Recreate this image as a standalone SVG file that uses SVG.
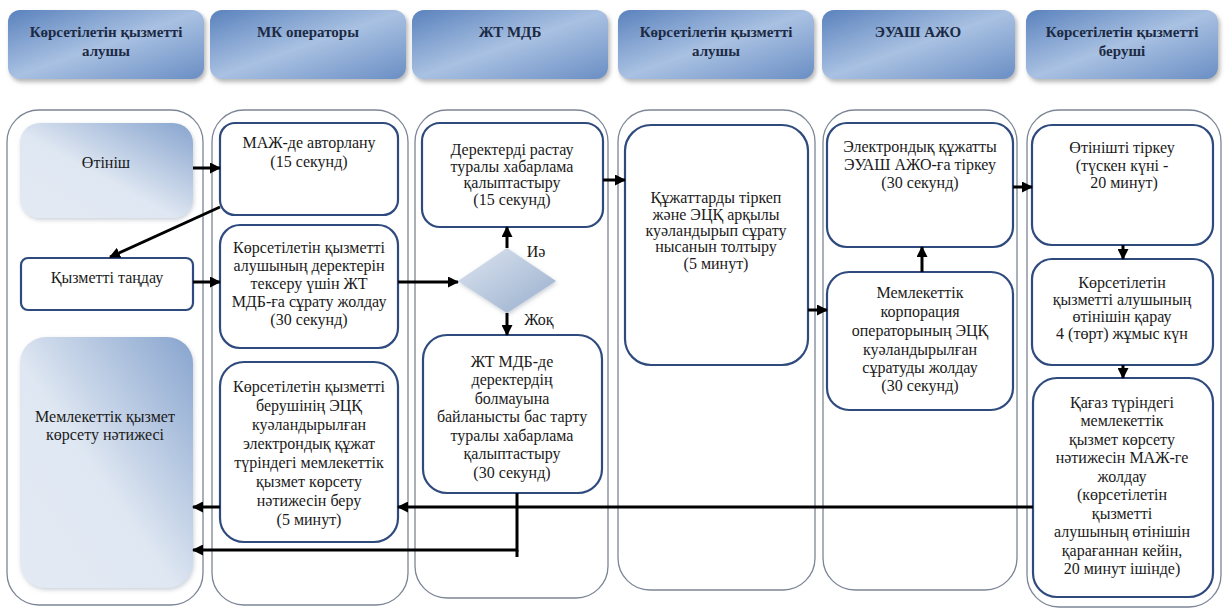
<svg xmlns="http://www.w3.org/2000/svg" width="1225" height="608" viewBox="0 0 1225 608">
<defs>
<linearGradient id="hdrGrad" x1="0" y1="0" x2="1" y2="1">
<stop offset="0" stop-color="#5a82bd"/>
<stop offset="0.5" stop-color="#a9c1e2"/>
<stop offset="1" stop-color="#6a8ec4"/>
</linearGradient>
<linearGradient id="softGrad" x1="0" y1="1" x2="1" y2="0">
<stop offset="0" stop-color="#e3eaf4"/>
<stop offset="0.45" stop-color="#dfe7f2"/>
<stop offset="1" stop-color="#87a4ce"/>
</linearGradient>
<linearGradient id="diaGrad" x1="0" y1="0" x2="1" y2="1">
<stop offset="0" stop-color="#dde5f0"/>
<stop offset="1" stop-color="#98aecd"/>
</linearGradient>
<filter id="shadow" x="-10%" y="-10%" width="125%" height="130%">
<feDropShadow dx="2" dy="3" stdDeviation="2" flood-color="#7a7a7a" flood-opacity="0.55"/>
</filter>
<filter id="softShadow" x="-10%" y="-10%" width="125%" height="125%">
<feDropShadow dx="1" dy="2" stdDeviation="2" flood-color="#9aa3b0" flood-opacity="0.5"/>
</filter>
<marker id="arrow" markerUnits="userSpaceOnUse" markerWidth="11" markerHeight="11" refX="10" refY="5.5" orient="auto">
<path d="M0,0 L11,5.5 L0,11 z" fill="#000"/>
</marker>
<style>
.hdr{fill:url(#hdrGrad);filter:url(#shadow);}
.ht{font-family:'Times New Roman','Liberation Serif',Tinos,'DejaVu Serif',serif;font-weight:bold;font-size:15px;fill:#1c2a44;text-anchor:middle;}
.lane{fill:#fff;stroke:#7d8696;stroke-width:1.3;}
.box{fill:#fff;stroke:#2f4b7e;stroke-width:2.2;}
.soft{fill:url(#softGrad);filter:url(#softShadow);}
.t{font-family:'Times New Roman','Liberation Serif',Tinos,'DejaVu Serif',serif;font-size:16px;fill:#1a1a1a;text-anchor:middle;}
.c{fill:none;stroke:#000;stroke-width:3;}
.ca{fill:none;stroke:#000;stroke-width:3;marker-end:url(#arrow);}
</style>
</defs>
<rect width="1225" height="608" fill="#fff"/>

<g id="headers" font-family="Liberation Serif, serif">
<g id="h1"><rect class="hdr" x="8" y="10" width="196" height="69" rx="12"/><text class="ht" x="106" y="37">Көрсетілетін қызметті</text><text class="ht" x="106" y="56">алушы</text></g>
<g id="h2"><rect class="hdr" x="210" y="10" width="196" height="69" rx="12"/><text class="ht" x="308" y="37">МК операторы</text></g>
<g id="h3"><rect class="hdr" x="412" y="10" width="196" height="69" rx="12"/><text class="ht" x="510" y="37">ЖТ МДБ</text></g>
<g id="h4"><rect class="hdr" x="618" y="10" width="196" height="69" rx="12"/><text class="ht" x="716" y="37">Көрсетілетін қызметті</text><text class="ht" x="716" y="56">алушы</text></g>
<g id="h5"><rect class="hdr" x="822" y="10" width="193" height="69" rx="12"/><text class="ht" x="918" y="37">ЭУАШ АЖО</text></g>
<g id="h6"><rect class="hdr" x="1026" y="10" width="192" height="69" rx="12"/><text class="ht" x="1122" y="37">Көрсетілетін қызметті</text><text class="ht" x="1122" y="56">беруші</text></g>
</g>

<g id="lanes">
<rect class="lane" x="7" y="110" width="196" height="495" rx="32"/>
<rect class="lane" x="212" y="110" width="196" height="495" rx="32"/>
<rect class="lane" x="415" y="110" width="193" height="488" rx="32"/>
<rect class="lane" x="618" y="110" width="197" height="480" rx="32"/>
<rect class="lane" x="823" y="110" width="194" height="480" rx="32"/>
<rect class="lane" x="1027" y="110" width="194" height="497" rx="32"/>
</g>

<g id="n_otinish"><rect class="soft" x="20" y="123" width="173" height="95" rx="20"/><text class="t" x="106" y="168">Өтініш</text></g>
<g id="n_tandau"><rect class="box" x="21" y="258" width="172" height="52" rx="7"/><text class="t" x="107" y="283">Қызметті таңдау</text></g>
<g id="n_natije"><rect class="soft" x="20" y="337" width="173" height="251" rx="26"/><text class="t" x="105" y="422">Мемлекеттік қызмет</text><text class="t" x="105" y="440">көрсету нәтижесі</text></g>

<g id="n_avtor"><rect class="box" x="220" y="123" width="178" height="92" rx="15"/><text class="t" x="309" y="148">МАЖ-де авторлану</text><text class="t" x="309" y="167">(15 секунд)</text></g>
<g id="n_surau"><rect class="box" x="220" y="225" width="178" height="123" rx="20"/>
<text class="t" x="309" y="253">Көрсетілетін қызметті</text>
<text class="t" x="309" y="271">алушының деректерін</text>
<text class="t" x="309" y="289">тексеру үшін ЖТ</text>
<text class="t" x="309" y="307">МДБ-ға сұрату жолдау</text>
<text class="t" x="309" y="325">(30 секунд)</text></g>
<g id="n_beru"><rect class="box" x="220" y="362" width="178" height="180" rx="24"/>
<text class="t" x="309" y="392">Көрсетілетін қызметті</text>
<text class="t" x="309" y="411">берушінің ЭЦҚ</text>
<text class="t" x="309" y="430">куәландырылған</text>
<text class="t" x="309" y="449">электрондық құжат</text>
<text class="t" x="309" y="468">түріндегі мемлекеттік</text>
<text class="t" x="309" y="487">қызмет көрсету</text>
<text class="t" x="309" y="506">нәтижесін беру</text>
<text class="t" x="309" y="525">(5 минут)</text></g>

<g id="n_rastau"><rect class="box" x="422" y="123" width="181" height="104" rx="18"/>
<text class="t" x="512" y="155">Деректерді растау</text>
<text class="t" x="512" y="172">туралы хабарлама</text>
<text class="t" x="512" y="188">қалыптастыру</text>
<text class="t" x="512" y="205">(15 секунд)</text></g>
<g id="n_decision"><polygon points="458,281 507,248 556,281 507,313" fill="url(#diaGrad)" filter="url(#softShadow)"/></g>
<g id="n_bas"><rect class="box" x="423" y="335" width="179" height="158" rx="24"/>
<text class="t" x="512" y="367">ЖТ МДБ-де</text>
<text class="t" x="512" y="385">деректердің</text>
<text class="t" x="512" y="404">болмауына</text>
<text class="t" x="512" y="422">байланысты бас тарту</text>
<text class="t" x="512" y="441">туралы хабарлама</text>
<text class="t" x="512" y="459">қалыптастыру</text>
<text class="t" x="512" y="478">(30 секунд)</text></g>

<g id="n_tolt"><rect class="box" x="625" y="125" width="183" height="240" rx="26"/>
<text class="t" x="716" y="203">Құжаттарды тіркеп</text>
<text class="t" x="716" y="220">және ЭЦҚ арқылы</text>
<text class="t" x="716" y="236">куәландырып сұрату</text>
<text class="t" x="716" y="252">нысанын толтыру</text>
<text class="t" x="716" y="269">(5 минут)</text></g>

<g id="n_tirkeu"><rect class="box" x="827" y="123" width="186" height="124" rx="20"/>
<text class="t" x="920" y="152">Электрондық құжатты</text>
<text class="t" x="920" y="170">ЭУАШ АЖО-ға тіркеу</text>
<text class="t" x="920" y="188">(30 секунд)</text></g>
<g id="n_korp"><rect class="box" x="827" y="272" width="186" height="138" rx="22"/>
<text class="t" x="920" y="298">Мемлекеттік</text>
<text class="t" x="920" y="317">корпорация</text>
<text class="t" x="920" y="336">операторының ЭЦҚ</text>
<text class="t" x="920" y="355">куәландырылған</text>
<text class="t" x="920" y="373">сұратуды жолдау</text>
<text class="t" x="920" y="391">(30 секунд)</text></g>

<g id="n_otinish_tirkeu"><rect class="box" x="1032" y="125" width="181" height="120" rx="20"/>
<text class="t" x="1122" y="153">Өтінішті тіркеу</text>
<text class="t" x="1122" y="171">(түскен күні -</text>
<text class="t" x="1124" y="188">20 минут)</text></g>
<g id="n_karau"><rect class="box" x="1032" y="259" width="181" height="106" rx="20"/>
<text class="t" x="1122" y="288">Көрсетілетін</text>
<text class="t" x="1122" y="305">қызметті алушының</text>
<text class="t" x="1122" y="322">өтінішін қарау</text>
<text class="t" x="1122" y="339">4 (төрт) жұмыс күн</text></g>
<g id="n_qagaz"><rect class="box" x="1033" y="378" width="180" height="219" rx="24"/>
<text class="t" x="1122" y="408">Қағаз түріндегі</text>
<text class="t" x="1122" y="426">мемлекеттік</text>
<text class="t" x="1122" y="445">қызмет көрсету</text>
<text class="t" x="1122" y="463">нәтижесін МАЖ-ге</text>
<text class="t" x="1122" y="482">жолдау</text>
<text class="t" x="1122" y="500">(көрсетілетін</text>
<text class="t" x="1122" y="519">қызметті</text>
<text class="t" x="1122" y="537">алушының өтінішін</text>
<text class="t" x="1122" y="556">қарағаннан кейін,</text>
<text class="t" x="1122" y="574">20 минут ішінде)</text></g>

<g id="connectors">
<line class="ca" x1="193" y1="168" x2="220" y2="168"/>
<line class="ca" x1="220" y1="207" x2="110" y2="257"/>
<line class="ca" x1="193" y1="282" x2="220" y2="282"/>
<line class="ca" x1="398" y1="282" x2="458" y2="282"/>
<line class="ca" x1="507" y1="248" x2="507" y2="227"/>
<line class="ca" x1="507" y1="313" x2="507" y2="335"/>
<line class="ca" x1="603" y1="180" x2="625" y2="180"/>
<line class="ca" x1="808" y1="310" x2="827" y2="310"/>
<line class="ca" x1="922" y1="272" x2="922" y2="247"/>
<line class="ca" x1="1013" y1="187" x2="1032" y2="187"/>
<line class="ca" x1="1123" y1="245" x2="1123" y2="259"/>
<line class="ca" x1="1123" y1="365" x2="1123" y2="378"/>
<line class="ca" x1="1033" y1="507" x2="398" y2="507"/>
<line class="ca" x1="220" y1="507" x2="193" y2="507"/>
<path class="ca" d="M517,493 V550 H193"/>
<line class="c" x1="517" y1="550" x2="517" y2="557"/>
<text class="t" x="536" y="257">Иә</text>
<text class="t" x="539" y="325">Жоқ</text>
</g>
</svg>
